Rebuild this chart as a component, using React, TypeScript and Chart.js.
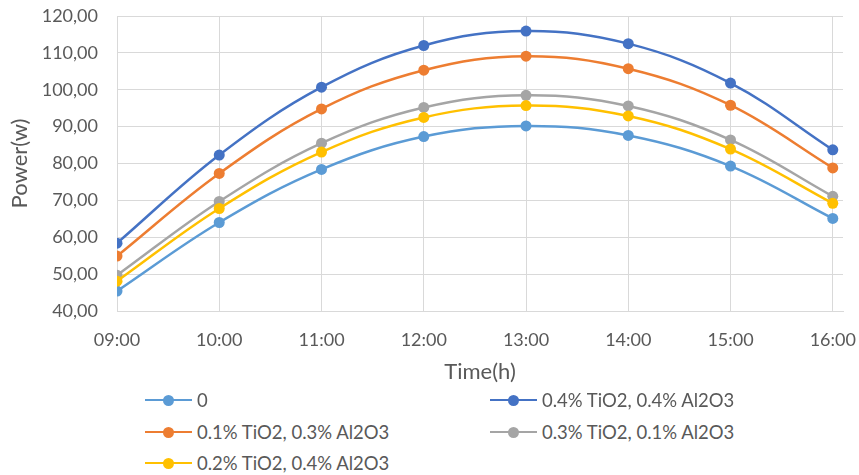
import React, { useEffect, useRef } from "react";
import { Chart, registerables } from "chart.js";

Chart.register(...registerables);

const categories = ["09:00", "10:00", "11:00", "12:00", "13:00", "14:00", "15:00", "16:00"];
const seriesNames = [
  "0",
  "0.4% TiO2, 0.4% Al2O3",
  "0.1% TiO2, 0.3% Al2O3",
  "0.3% TiO2, 0.1% Al2O3",
  "0.2% TiO2, 0.4% Al2O3",
];
const s0 = [45.4, 64.0, 78.4, 87.3, 90.2, 87.6, 79.3, 65.1];
const s44 = [58.4, 82.3, 100.7, 112.0, 115.9, 112.5, 101.8, 83.7];
const s13 = [54.9, 77.3, 94.8, 105.3, 109.1, 105.7, 95.8, 78.8];
const s31 = [49.7, 69.7, 85.5, 95.2, 98.5, 95.6, 86.4, 71.1];
const s24 = [48.1, 67.8, 83.1, 92.5, 95.7, 92.9, 83.9, 69.2];
const seriesValues = [s0, s44, s13, s31, s24];
const colors = ["#5B9BD5", "#4472C4", "#ED7D31", "#A5A5A5", "#FFC000"];

const FONT = "Lato, 'Open Sans', sans-serif";
const TEXT = "#595959";

export default function App() {
  const ref = useRef<HTMLCanvasElement | null>(null);

  useEffect(() => {
    if (!ref.current) return;
    const chart = new Chart(ref.current, {
      type: "line",
      data: {
        datasets: seriesValues.map((vals, si) => ({
          label: seriesNames[si],
          data: vals.map((v, i) => ({ x: i, y: v })),
          borderColor: colors[si],
          backgroundColor: colors[si],
          pointBackgroundColor: colors[si],
          pointBorderColor: colors[si],
          pointRadius: 5.5,
          pointBorderWidth: 0,
          borderWidth: 2.5,
          tension: 0.38,
          fill: false,
          order: seriesValues.length - si,
        })),
      },
      options: {
        animation: false,
        responsive: false,
        layout: { padding: { top: 16, right: 16, left: 0, bottom: 0 } },
        plugins: { legend: { display: false }, tooltip: { enabled: false } },
        scales: {
          x: {
            type: "linear",
            min: 0,
            max: 7.1,
            afterFit: (scale: any) => {
              scale.height = 79;
              scale.paddingLeft = 0;
              scale.paddingRight = 0;
            },
            border: { display: true, color: "#D9D9D9", width: 1 },
            grid: { color: "#D9D9D9", lineWidth: 1, drawTicks: false },
            ticks: {
              stepSize: 1,
              includeBounds: false,
              autoSkip: false,
              maxRotation: 0,
              padding: 18,
              color: TEXT,
              font: { family: FONT, size: 18 },
              callback: (v: any) => categories[v as number] ?? "",
            },
            title: {
              display: true,
              text: "Time(h)",
              color: TEXT,
              font: { family: FONT, size: 22 },
              padding: { top: 0, bottom: 5 },
            },
          },
          y: {
            min: 40,
            max: 120,
            afterFit: (scale: any) => {
              scale.width = 117;
              scale.paddingTop = 0;
              scale.paddingBottom = 0;
            },
            border: { display: false },
            grid: { color: "#D9D9D9", lineWidth: 1, drawTicks: false },
            ticks: {
              stepSize: 10,
              padding: 19,
              color: TEXT,
              font: { family: FONT, size: 18 },
              callback: (v: any) => Number(v).toFixed(2).replace(".", ","),
            },
            title: {
              display: true,
              text: "Power(w)",
              color: TEXT,
              font: { family: FONT, size: 22 },
              padding: { top: 7, bottom: 0 },
            },
          },
        },
      },
    });
    return () => chart.destroy();
  }, []);

  const legendPos = [
    { x: 145, y: 400 },
    { x: 490, y: 400 },
    { x: 145, y: 432 },
    { x: 490, y: 432 },
    { x: 145, y: 463 },
  ];

  return (
    <div style={{ position: "absolute", left: 0, top: 0, width: 859, height: 475, background: "#fff" }}>
      <canvas ref={ref} width={859} height={390} style={{ display: "block" }} />
      {seriesNames.map((name, i) => (
        <div
          key={name}
          style={{
            position: "absolute",
            left: legendPos[i].x,
            top: legendPos[i].y - 12,
            height: 24,
            display: "flex",
            alignItems: "center",
            fontFamily: FONT,
            fontSize: 18.5,
            color: TEXT,
            whiteSpace: "nowrap",
          }}
        >
          <span style={{ position: "relative", width: 47, height: 24, marginRight: 5, display: "inline-block" }}>
            <span
              style={{
                position: "absolute",
                left: 0,
                top: 10.75,
                width: 47,
                height: 2.5,
                background: colors[i],
              }}
            />
            <span
              style={{
                position: "absolute",
                left: 18,
                top: 6.5,
                width: 11,
                height: 11,
                borderRadius: "50%",
                background: colors[i],
              }}
            />
          </span>
          <span>{name}</span>
        </div>
      ))}
    </div>
  );
}
